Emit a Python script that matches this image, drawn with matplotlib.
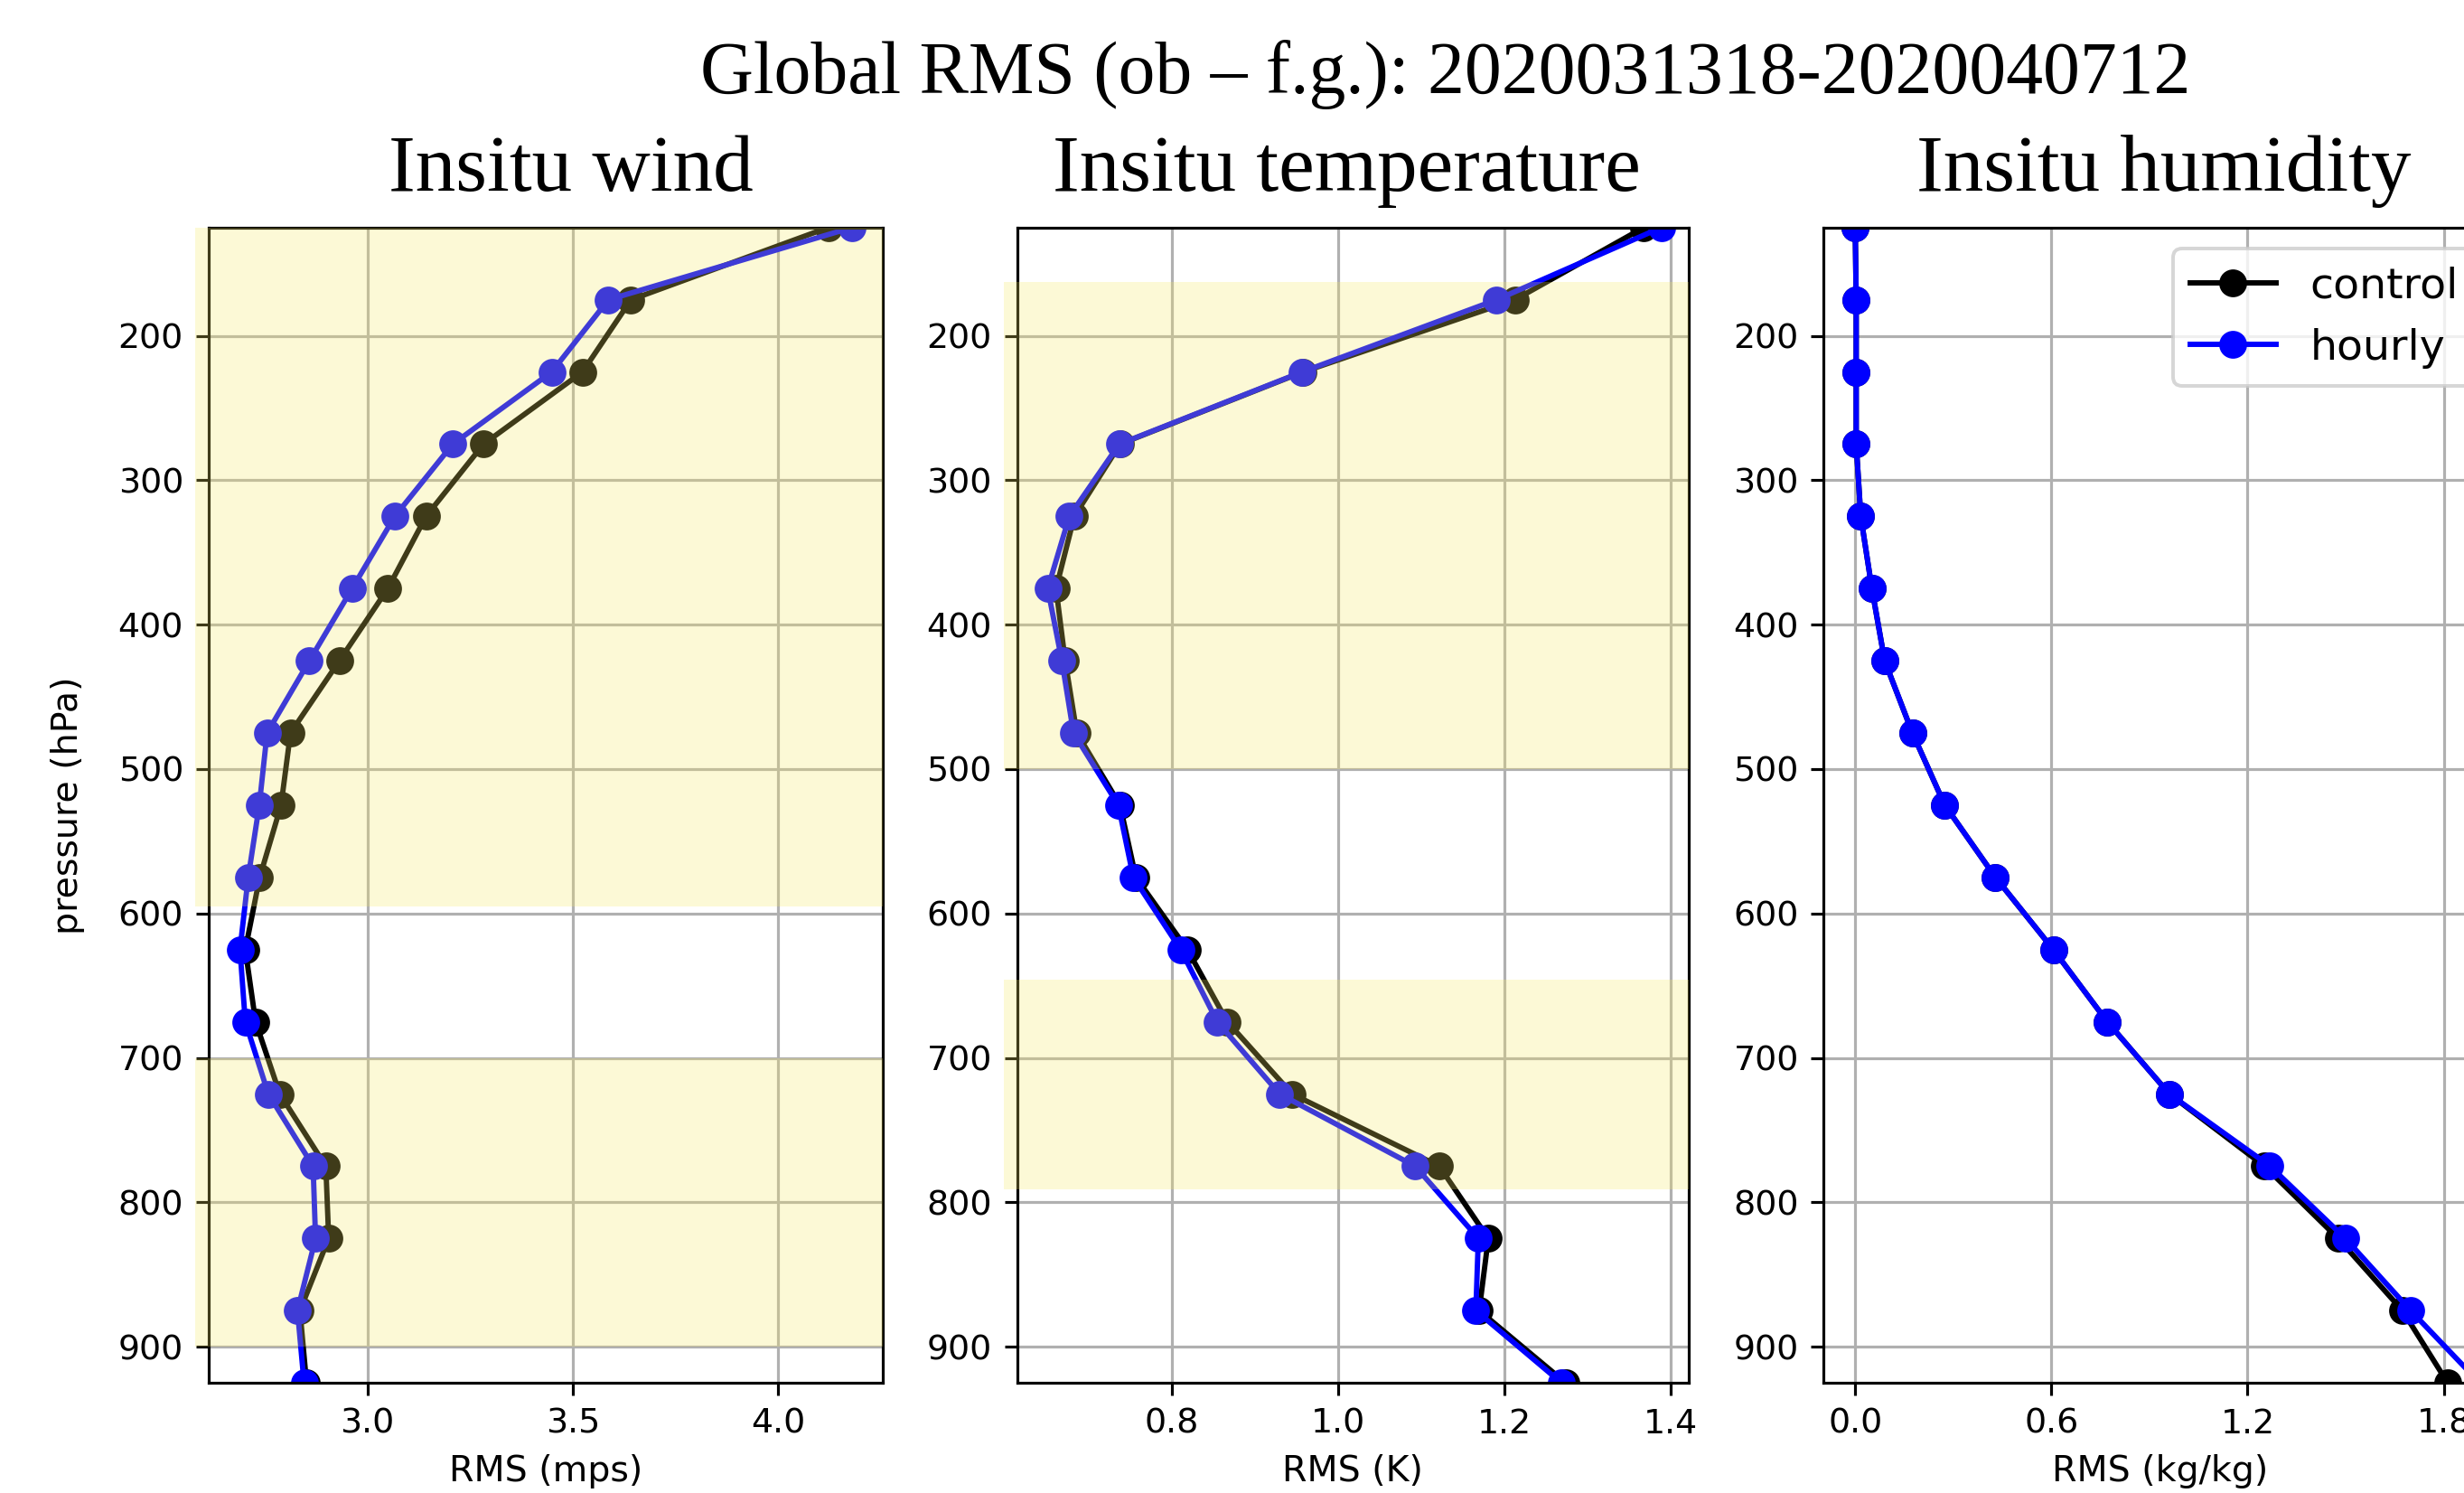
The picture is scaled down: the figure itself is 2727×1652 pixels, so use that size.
import matplotlib
matplotlib.use('Agg')
import matplotlib.pyplot as plt
import matplotlib.transforms as mtransforms
from matplotlib.patches import Rectangle

# pressure levels (hPa)
levels = [125, 175, 225, 275, 325, 375, 425, 475, 525, 575, 625, 675, 725, 775, 825, 875, 925]

wind_control = [4.122, 3.642, 3.524, 3.283, 3.143, 3.050, 2.932, 2.813, 2.790, 2.738,
                2.703, 2.728, 2.787, 2.899, 2.906, 2.836, 2.852]
wind_hourly = [4.180, 3.587, 3.449, 3.208, 3.067, 2.963, 2.859, 2.756, 2.737, 2.710,
               2.690, 2.703, 2.759, 2.868, 2.874, 2.830, 2.846]

temp_control = [1.368, 1.213, 0.958, 0.738, 0.683, 0.661, 0.672, 0.686, 0.738, 0.757,
                0.819, 0.867, 0.945, 1.122, 1.181, 1.170, 1.274]
temp_hourly = [1.389, 1.191, 0.957, 0.737, 0.677, 0.651, 0.668, 0.682, 0.736, 0.754,
               0.811, 0.855, 0.930, 1.093, 1.169, 1.166, 1.269]

hum_control = [0.000, 0.003, 0.003, 0.003, 0.017, 0.051, 0.090, 0.175, 0.274, 0.429,
               0.606, 0.771, 0.961, 1.252, 1.477, 1.674, 1.812]
hum_hourly = [0.000, 0.003, 0.003, 0.003, 0.017, 0.051, 0.090, 0.175, 0.274, 0.429,
              0.606, 0.771, 0.961, 1.269, 1.499, 1.699, 1.910]

titles = ['Insitu wind', 'Insitu temperature', 'Insitu humidity']
xlabels = ['RMS (mps)', 'RMS (K)', 'RMS (kg/kg)']
xticks = [[3.0, 3.5, 4.0], [0.8, 1.0, 1.2, 1.4], [0.0, 0.6, 1.2, 1.8]]
xlims = [(2.613, 4.255), (0.614, 1.422), (-0.096, 1.963)]
# highlighted pressure bands (hPa) per panel
bands = [[(125, 595), (700, 900)], [(163, 500), (646, 791)], []]

DPI = 284
fig = plt.figure(figsize=(2727 / DPI, 1652 / DPI), dpi=DPI)

lefts = [0.08456, 0.41273, 0.74019]
widths = [0.2737, 0.2726, 0.2732]
title_x = [632 / 2727, 1490 / 2727, 2395 / 2727]

series = [(wind_control, wind_hourly), (temp_control, temp_hourly), (hum_control, hum_hourly)]

for i in range(3):
    ax = fig.add_axes([lefts[i], 0.0738, widths[i], 0.7738])
    ctrl, hrly = series[i]
    ax.plot(ctrl, levels, color='black', marker='o', lw=1.5, ms=6.8, label='control')
    ax.plot(hrly, levels, color='blue', marker='o', lw=1.5, ms=6.8, label='hourly')
    ax.set_ylim(925, 125)
    ax.set_xlim(*xlims[i])
    ax.set_xticks(xticks[i])
    ax.set_yticks([200, 300, 400, 500, 600, 700, 800, 900])
    ax.tick_params(labelsize=9.6)
    ax.grid(True)
    ax.set_xlabel(xlabels[i], fontsize=10)
    if i == 0:
        ax.set_ylabel('pressure (hPa)', fontsize=10)
        ax.yaxis.set_label_coords(-0.183, 0.5)
    if i == 2:
        ax.legend(loc='upper right', fontsize=12)

    trans = mtransforms.blended_transform_factory(ax.transAxes, ax.transData)
    for lo, hi in bands[i]:
        ax.add_patch(Rectangle((-0.019, lo), 1.019, hi - lo, transform=trans,
                               facecolor='#f7e861', alpha=0.26, lw=0,
                               zorder=10, clip_on=False))

    fig.text(title_x[i], 1 - 210.5 / 1652, titles[i], ha='center', va='baseline',
             fontsize=22.6, family='Liberation Serif')

fig.text(1600 / 2727, 1 - 102.6 / 1652, 'Global RMS (ob \u2013 f.g.): 2020031318-2020040712',
         ha='center', va='baseline', fontsize=20.7, family='Liberation Serif')

fig.savefig('out.png', dpi=DPI)
